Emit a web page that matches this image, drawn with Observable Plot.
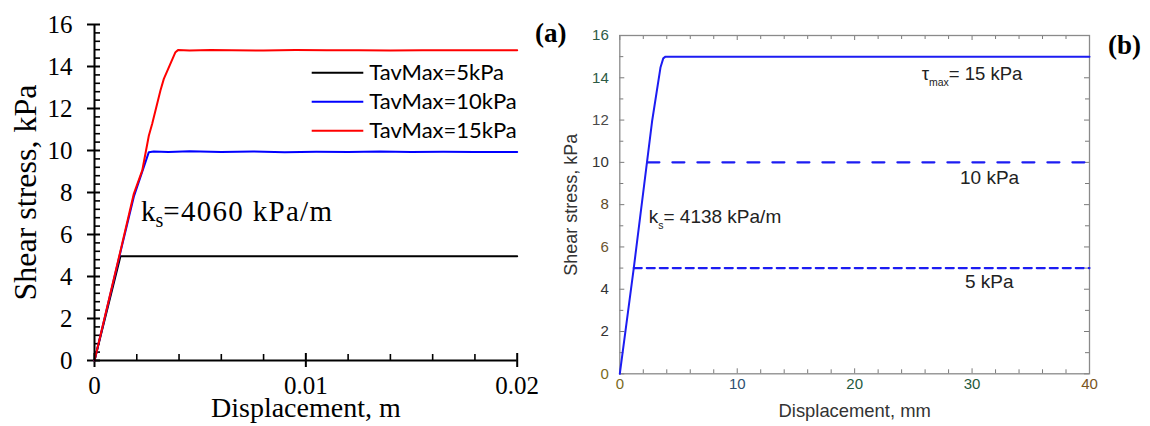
<!DOCTYPE html>
<html><head><meta charset="utf-8">
<script src="https://cdn.jsdelivr.net/npm/d3@7"></script>
<script src="https://cdn.jsdelivr.net/npm/@observablehq/plot@0.6"></script>
<style>
body{margin:0;background:#fff;}
#wrap{position:relative;width:1150px;height:426px;overflow:hidden;background:#fff;}
#wrap svg{position:absolute;top:0;}
</style></head><body><div id="wrap"></div>
<script>
// ---------- Panel (a) data ----------
const seriesNamesA = ["TavMax=5kPa", "TavMax=10kPa", "TavMax=15kPa"];
const dispA5  = [0, 0.00123, 0.0016, 0.02];
const tauA5   = [0, 4.97, 4.97, 4.97];
const dispA10 = [0, 0.0012, 0.00186, 0.00257, 0.0028, 0.0035, 0.0045, 0.006, 0.0075, 0.009, 0.0105, 0.012, 0.0135, 0.015, 0.0165, 0.018, 0.02];
const tauA10  = [0, 5.05, 7.8, 9.92, 9.95, 9.93, 9.96, 9.93, 9.95, 9.92, 9.94, 9.93, 9.95, 9.93, 9.94, 9.93, 9.93];
const dispA15 = [0, 0.0012, 0.00186, 0.00226, 0.00257, 0.00273, 0.00312, 0.00328, 0.00383, 0.00395, 0.0045, 0.0055, 0.0065, 0.008, 0.0095, 0.011, 0.0125, 0.014, 0.0155, 0.017, 0.0185, 0.02];
const tauA15  = [0, 5.1, 7.94, 9.05, 10.7, 11.27, 12.86, 13.41, 14.68, 14.78, 14.76, 14.79, 14.77, 14.76, 14.78, 14.77, 14.77, 14.76, 14.77, 14.77, 14.77, 14.77];
const xTicksA = [0, 0.01, 0.02];
const xTickLabelsA = ["0", "0.01", "0.02"];
const yTicksA = [0, 2, 4, 6, 8, 10, 12, 14, 16];
const yTickLabelsA = ["0", "2", "4", "6", "8", "10", "12", "14", "16"];
const xLabelA = "Displacement, m";
const yLabelA = "Shear stress, kPa";
const ksA = ["k", "s", "=4060 kPa/m"];

// ---------- Panel (b) data ----------
const dispB15 = [0, 0.49, 1.19, 2.76, 3.47, 3.7, 3.89, 40];
const tauB15  = [0, 2.05, 5.0, 11.98, 14.5, 14.92, 15, 15];
const dispB10 = [2.35, 40];
const tauB10  = [10, 10];
const dispB5  = [1.19, 40];
const tauB5   = [5, 5];
const xTicksB = [0, 10, 20, 30, 40];
const xTickLabelsB = ["0", "10", "20", "30", "40"];
const yTicksB = [0, 2, 4, 6, 8, 10, 12, 14, 16];
const yTickLabelsB = ["0", "2", "4", "6", "8", "10", "12", "14", "16"];
const xLabelB = "Displacement, mm";
const yLabelB = "Shear stress, kPa";
const ksB = ["k", "s", "= 4138 kPa/m"];
const tauMaxB = ["τ", "max", "= 15 kPa"];
const lineLabelsB = ["10 kPa", "5 kPa"];

// ---------- styles ----------
const colorsA = ["#000000", "#0000ff", "#ff0000"];
const blueB = "#1c1cf2";
const xTickColorsB = ["#7a6a22", "#2d4f72", "#1f5a3c", "#1f5a3c", "#7a5522"];
const yTickColorsB = ["#7a6a22", "#333333", "#333333", "#6a5530", "#5e4a28", "#333333", "#4a4a4a", "#2c5a45", "#2c5a45"];

const H = 426;
const wrap = document.getElementById("wrap");

// ---------- Panel (a) ----------
const rowsA = [];
[[dispA5, tauA5], [dispA10, tauA10], [dispA15, tauA15]].forEach(([xs, ys], k) => {
  xs.forEach((x, i) => rowsA.push({series: seriesNamesA[k], disp: x, tau: ys[i]}));
});
const WA = 560, mA = {top: 24, right: 43.3, bottom: 66, left: 94};
const yMinorA = d3.range(0, 16.001, 0.4).filter(v => Math.abs(v / 2 - Math.round(v / 2)) > 1e-6);
const xMinorA = d3.range(0.002, 0.0201, 0.002).filter(v => Math.abs(v / 0.01 - Math.round(v / 0.01)) > 1e-6);

const plotA = Plot.plot({
  width: WA, height: H,
  marginTop: mA.top, marginRight: mA.right, marginBottom: mA.bottom, marginLeft: mA.left,
  style: {fontFamily: "Liberation Serif", background: "transparent", overflow: "visible", color: "#000"},
  x: {domain: [0, 0.02], axis: null},
  y: {domain: [0, 16], axis: null},
  color: {domain: seriesNamesA, range: colorsA},
  marks: [
    // y ticks (inward minor, crossing major)
    Plot.ruleY(yMinorA, {y: d => d, x1: 0, x2: 0, insetLeft: 0, insetRight: -6, stroke: "#000", strokeWidth: 1.6}),
    Plot.ruleY(yTicksA, {y: d => d, x1: 0, x2: 0, insetLeft: -7, insetRight: -6, stroke: "#000", strokeWidth: 2}),
    // x ticks
    Plot.ruleX(xMinorA, {x: d => d, y1: 0, y2: 0, insetTop: -6, insetBottom: 0, stroke: "#000", strokeWidth: 1.6}),
    Plot.ruleX(xTicksA, {x: d => d, y1: 0, y2: 0, insetTop: -7, insetBottom: -7, stroke: "#000", strokeWidth: 2}),
    Plot.line(rowsA, {x: "disp", y: "tau", z: "series", stroke: "series", strokeWidth: 2}),
    Plot.ruleY([0], {stroke: "#000", strokeWidth: 2}),
    Plot.ruleX([0], {stroke: "#000", strokeWidth: 2}),
    Plot.text(yTicksA, {y: d => d, frameAnchor: "left", text: (d, i) => yTickLabelsA[i], textAnchor: "end", dx: -22, fontSize: 25, fill: "#000"}),
    Plot.text(xTicksA, {x: d => d, frameAnchor: "bottom", text: (d, i) => xTickLabelsA[i], dy: 33, fontSize: 25, fill: "#000"}),
    Plot.text([xLabelA], {frameAnchor: "bottom", text: d => d, dy: 56, fontSize: 28, fill: "#000"}),
    Plot.text([yLabelA], {frameAnchor: "left", text: d => d, textAnchor: "middle", rotate: -90, dx: -69, fontSize: 32, fill: "#000"})
  ]
});
plotA.style.left = "0px";
wrap.appendChild(plotA);

// ---------- Panel (b) ----------
const WB = 590, mB = {top: 35, right: 61, bottom: 52.7, left: 59.3};
const yAllB = d3.range(0, 17, 1);
const yMajB = yAllB.filter(v => v % 2 === 0), yMinB = yAllB.filter(v => v % 2 !== 0);
const xAllB = d3.range(0, 41, 2);
const xMajB = xAllB.filter(v => v % 10 === 0), xMinB = xAllB.filter(v => v % 10 !== 0);
const tk = {stroke: "#7a7a7a", strokeWidth: 1};

const plotB = Plot.plot({
  width: WB, height: H,
  marginTop: mB.top, marginRight: mB.right, marginBottom: mB.bottom, marginLeft: mB.left,
  style: {fontFamily: "Liberation Sans", background: "transparent", overflow: "visible", color: "#333"},
  x: {domain: [0, 40], axis: null},
  y: {domain: [0, 16], axis: null},
  color: {type: "identity"},
  marks: [
    // left / right inward ticks
    Plot.ruleY(yMajB, {y: d => d, x1: 0, x2: 0, insetRight: -5, ...tk}),
    Plot.ruleY(yMinB, {y: d => d, x1: 0, x2: 0, insetRight: -4, ...tk}),
    Plot.ruleY(yMajB, {y: d => d, x1: 40, x2: 40, insetLeft: -5, ...tk}),
    Plot.ruleY(yMinB, {y: d => d, x1: 40, x2: 40, insetLeft: -4, ...tk}),
    // bottom / top inward ticks
    Plot.ruleX(xMajB, {x: d => d, y1: 0, y2: 0, insetTop: -5, ...tk}),
    Plot.ruleX(xMinB, {x: d => d, y1: 0, y2: 0, insetTop: -4, ...tk}),
    Plot.ruleX(xMajB, {x: d => d, y1: 16, y2: 16, insetBottom: -5, ...tk}),
    Plot.ruleX(xMinB, {x: d => d, y1: 16, y2: 16, insetBottom: -4, ...tk}),
    Plot.frame({stroke: "#8a8a8a", strokeWidth: 1.3}),
    Plot.line(dispB5.map((x, i) => ({x, y: tauB5[i]})), {x: "x", y: "y", stroke: blueB, strokeWidth: 2.2, strokeDasharray: "8,5"}),
    Plot.line(dispB10.map((x, i) => ({x, y: tauB10[i]})), {x: "x", y: "y", stroke: blueB, strokeWidth: 2.2, strokeDasharray: "12,13"}),
    Plot.line(dispB15.map((x, i) => ({x, y: tauB15[i]})), {x: "x", y: "y", stroke: blueB, strokeWidth: 2}),
    Plot.text(yTicksB, {y: d => d, frameAnchor: "left", text: (d, i) => yTickLabelsB[i], textAnchor: "end", dx: -11, fontSize: 15, fill: (d, i) => yTickColorsB[i]}),
    Plot.text(xTicksB, {x: d => d, frameAnchor: "bottom", text: (d, i) => xTickLabelsB[i], dy: 15, fontSize: 15, fill: (d, i) => xTickColorsB[i]}),
    Plot.text([xLabelB], {frameAnchor: "bottom", text: d => d, dy: 43, fontSize: 18.4, fill: "#333"}),
    Plot.text([yLabelB], {frameAnchor: "left", text: d => d, textAnchor: "middle", rotate: -90, dx: -49, fontSize: 18, fill: "#333"})
  ]
});
plotB.style.left = "560px";
wrap.appendChild(plotB);

// ---------- annotations & legend ----------
const ov = d3.create("svg").attr("width", 1150).attr("height", H)
  .style("left", "0px").style("pointer-events", "none");
// legend (a)
seriesNamesA.forEach((name, i) => {
  const y = 72.7 + i * 29;
  ov.append("line").attr("x1", 311.7).attr("x2", 363.3).attr("y1", y).attr("y2", y)
    .attr("stroke", colorsA[i]).attr("stroke-width", 2);
  ov.append("text").attr("x", 369.3).attr("y", y + 7.5)
    .attr("font-family", "Lato").attr("font-size", 22).attr("fill", "#000").text(name);
});
// ks (a)
{
  const t = ov.append("text").attr("x", 141).attr("y", 221)
    .attr("font-family", "Liberation Serif").attr("font-size", 29).attr("fill", "#000");
  t.append("tspan").text(ksA[0]);
  t.append("tspan").attr("font-size", 20).attr("dy", 6).text(ksA[1]);
  t.append("tspan").attr("dy", -6).attr("letter-spacing", 1.3).text(ksA[2]);
}
ov.append("text").attr("x", 535).attr("y", 42).attr("font-family", "Liberation Serif")
  .attr("font-weight", "bold").attr("font-size", 27).attr("fill", "#000").text("(a)");
ov.append("text").attr("x", 1108).attr("y", 54).attr("font-family", "Liberation Serif")
  .attr("font-weight", "bold").attr("font-size", 27).attr("fill", "#000").text("(b)");
// panel (b) annotations
{
  const t = ov.append("text").attr("x", 921.7).attr("y", 80)
    .attr("font-family", "Liberation Sans").attr("font-size", 18.5).attr("fill", "#222");
  t.append("tspan").text(tauMaxB[0]);
  t.append("tspan").attr("font-size", 10.5).attr("dy", 6).text(tauMaxB[1]);
  t.append("tspan").attr("dy", -6).text(tauMaxB[2]);
}
{
  const t = ov.append("text").attr("x", 648.7).attr("y", 223.3)
    .attr("font-family", "Liberation Sans").attr("font-size", 19).attr("fill", "#222");
  t.append("tspan").text(ksB[0]);
  t.append("tspan").attr("font-size", 10.5).attr("dy", 6).text(ksB[1]);
  t.append("tspan").attr("dy", -6).text(ksB[2]);
}
ov.append("text").attr("x", 960).attr("y", 184).attr("font-family", "Liberation Sans")
  .attr("font-size", 19).attr("fill", "#222").text(lineLabelsB[0]);
ov.append("text").attr("x", 965).attr("y", 288.3).attr("font-family", "Liberation Sans")
  .attr("font-size", 19).attr("fill", "#222").text(lineLabelsB[1]);
wrap.appendChild(ov.node());
</script>
</body></html>
